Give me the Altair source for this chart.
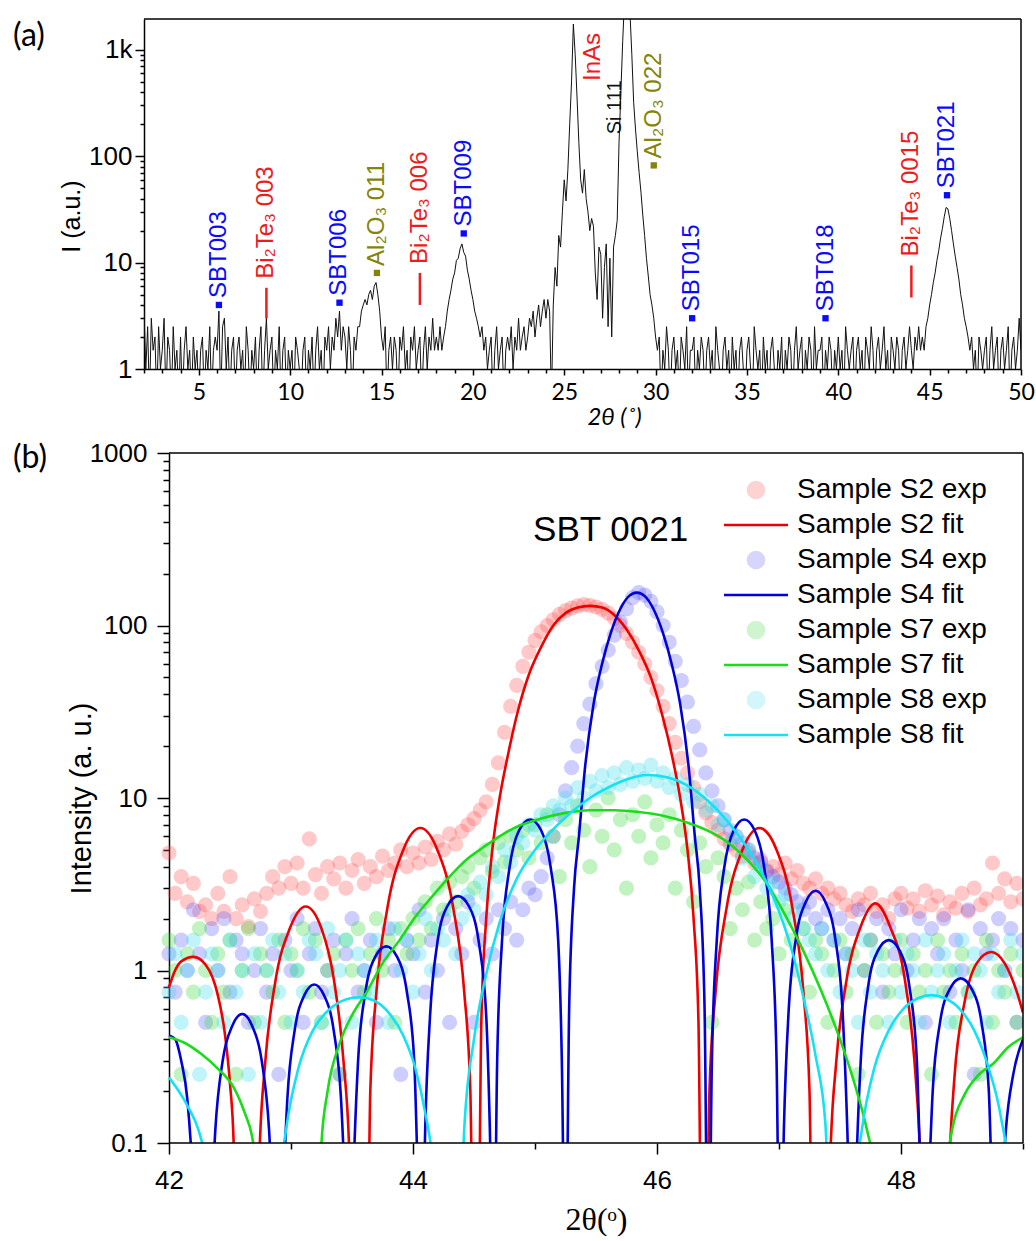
import altair as alt
import numpy as np
import pandas as pd

SANS = "Liberation Sans, DejaVu Sans"
CAL = "Lato, Open Sans"
SERIF = "Liberation Serif, DejaVu Serif"

# ====================== Panel (a): wide 2theta scan ======================
XRD_START = 2.0
XRD_STEP = 0.1
XRD_I = [
    3.5, 1, 2.5, 0.5, 3, 1.5, 2, 0.5, 2.5, 1,          # 2
    1.5, 3, 0.5, 2, 1.5, 0.5, 2.5, 1, 1.5, 0.5,        # 3
    2, 0.5, 1.5, 2.5, 1, 1.5, 0.5, 2, 1, 1.5,          # 4
    0.5, 1.5, 2, 0.5, 1.5, 1, 2.5, 0.5, 1.5, 2,        # 5
    1.5, 3.5, 0.5, 2.5, 3, 1, 2, 0.5, 1.5, 2,          # 6
    0.5, 1.5, 2, 1, 1.5, 0.5, 2.5, 1.5, 0.5, 1.5,      # 7
    1, 2, 0.5, 1.5, 2.5, 0.5, 1.5, 3, 1, 1.5,          # 8
    2, 0.5, 1.5, 1, 2.5, 0.5, 1.5, 2, 0.5, 1.5,        # 9
    1, 1.5, 0.5, 2, 1.5, 1, 0.5, 1.5, 2, 0.5,          # 10
    1.5, 1, 2, 0.5, 1.5, 2.5, 1, 1.5, 0.5, 2,          # 11
    1.5, 2.5, 1, 2, 1.5, 3, 2, 3.5, 1.5, 2.5,          # 12
    2, 1, 2.5, 1.5, 0.5, 2, 1.5, 2.5, 2.5, 3.5,        # 13
    4, 4.5, 4, 5, 5.5, 4.5, 6, 6.5, 5, 3.5,            # 14
    2, 1.5, 2.5, 0.5, 1.5, 2, 1, 2, 1.5, 0.5,          # 15
    2, 1.5, 2.5, 1, 1.5, 0.5, 2, 1.5, 2.5, 1,          # 16
    1.5, 2, 0.5, 1.5, 2.5, 1, 2, 1.5, 3, 1.5,          # 17
    2, 1.5, 2.5, 1.5, 2, 2.5, 3.5, 4.5, 5.5, 7,        # 18
    8, 10.5, 11, 13.5, 15, 12.5, 11.5, 8.5, 7, 5.5,    # 19
    4.5, 3.5, 3, 2.5, 2, 2.5, 1.5, 2, 1, 1.5,          # 20
    2, 0.5, 1.5, 2.5, 1, 1.5, 2, 0.5, 1.5, 2,          # 21
    1.5, 2.5, 1, 2, 1.5, 3, 1.5, 2, 2.5, 1.5,          # 22
    2, 3, 2.5, 3.5, 2, 3, 4, 2.5, 3.5, 4.5,            # 23
    3, 4.5, 3.5, 0.5, 4, 9, 6, 18, 14, 30,             # 24
    60, 38, 75, 200, 500, 1750, 900, 360, 135, 60,     # 25
    45, 75, 40, 30, 20, 26, 22, 8, 4.5, 14,            # 26
    12, 3, 9, 15, 2.5, 11, 2, 14, 18, 25,              # 27
    135, 400, 1200, 3000, 6000, 6000, 2200, 900, 320, 180,  # 28
    110, 70, 46, 28, 18, 11, 7.5, 5, 4, 3,             # 29
    2, 1.5, 2, 0.5, 1.5, 1, 2.5, 1.5, 0.5, 1.5,        # 30
    2, 1, 1.5, 0.5, 2, 1.5, 1, 2.5, 0.5, 1.5,          # 31
    1.5, 2, 0.5, 1.5, 1, 2, 1.5, 0.5, 1.5, 2,          # 32
    1, 1.5, 0.5, 2.5, 1.5, 1, 0.5, 1.5, 2, 1,          # 33
    1.5, 0.5, 2, 1, 1.5, 0.5, 1.5, 2, 1, 0.5,          # 34
    1.5, 2, 1, 0.5, 2.5, 1.5, 1, 1.5, 0.5, 2,          # 35
    1, 1.5, 0.5, 1.5, 2, 1, 0.5, 1.5, 1, 2,            # 36
    0.5, 1.5, 1, 2, 1.5, 0.5, 1.5, 2.5, 1, 1.5,        # 37
    2, 0.5, 1.5, 1, 2, 1.5, 0.5, 2.5, 1, 1.5,          # 38
    1.5, 2, 0.5, 1.5, 1, 2, 1.5, 0.5, 1.5, 1,          # 39
    2, 1, 1.5, 0.5, 2.5, 1.5, 1, 1.5, 2, 0.5,          # 40
    1.5, 2, 1, 1.5, 0.5, 2, 1.5, 1, 2.5, 1.5,          # 41
    0.5, 1.5, 2, 1, 1.5, 2.5, 1, 1.5, 0.5, 2,          # 42
    1.5, 1, 2, 1.5, 0.5, 1.5, 2, 1, 1.5, 2.5,          # 43
    1.5, 1, 2, 1.5, 2.5, 1.5, 2, 1.5, 2.5, 3,          # 44
    4, 5, 6.5, 8, 10.5, 13, 17, 21, 27, 33,            # 45
    32, 26, 20, 15, 11.5, 9, 7, 5, 4, 3,               # 46
    2.5, 2, 1.5, 2, 1, 1.5, 0.5, 2, 1.5, 1,            # 47
    1.5, 2, 0.5, 1.5, 2.5, 1, 1.5, 2, 0.5, 1.5,        # 48
    2, 1, 1.5, 2.5, 0.5, 1.5, 2, 1, 1.5, 3,            # 49
    1.5,                                               # 50
]

MARK_LABEL = ["SBT003", "SBT006", "Al₂O₃ 011", "SBT009", "Al₂O₃ 022", "SBT015", "SBT018", "SBT021"]
MARK_TT = [6.1, 12.7, 14.75, 19.5, 29.9, 32.0, 39.3, 45.95]
MARK_I = [4.0, 4.2, 8.0, 18.8, 82, 3.0, 3.0, 43]
MARK_KIND = ["SBT", "SBT", "Al2O3", "SBT", "Al2O3", "SBT", "SBT", "SBT"]

BT_LABEL = ["Bi₂Te₃ 003", "Bi₂Te₃ 006", "Bi₂Te₃ 0015"]
BT_TT = [8.7, 17.1, 44.0]
BT_LO = [3.0, 4.0, 4.7]
BT_HI = [5.8, 8.0, 9.4]

SUB_LABEL = ["InAs", "Si 111"]
SUB_TT = [26.6, 27.8]
SUB_I = [510, 161]
SUB_KIND = ["InAs", "Si"]

# ====================== Panel (b): SBT 0021 ======================
EXP_START = 42.0
EXP_STEP = 0.05
S2_EXP = [
    4.8, 2.8, 3.5, 2.5, 3.2, 2.2, 2.4, 2.0, 2.8, 2.2,
    3.5, 2.0, 2.4, 1.8, 2.6, 2.2, 2.8, 3.5, 3.0, 4.0,
    3.2, 4.2, 3.0, 5.8, 3.6, 2.8, 4.0, 3.4, 4.2, 3.0,
    3.8, 4.4, 3.2, 4.0, 3.5, 4.6, 3.8, 4.2, 5.0, 4.0,
    4.8, 4.2, 5.2, 4.4, 5.6, 5.0, 6.2, 5.4, 6.4, 7.0,
    7.6, 8.5, 9.5, 12, 16, 24, 34, 45, 58, 70,
    82, 92, 100, 108, 116, 122, 126, 130, 132, 131,
    128, 124, 118, 110, 100, 90, 80, 70, 60, 50,
    42, 34, 27, 21, 17, 14, 11.5, 9.5, 8.2, 7.2,
    6.5, 5.8, 5.4, 5.0, 4.6, 4.8, 4.2, 4.4, 3.8, 4.0,
    3.6, 4.2, 3.4, 3.8, 3.2, 3.0, 3.4, 2.8, 3.0, 2.6,
    2.8, 2.4, 2.2, 2.6, 2.4, 2.8, 2.2, 2.4, 2.0, 2.6,
    2.8, 2.3, 2.6, 2.2, 2.9, 2.4, 2.7, 2.1, 2.5, 2.3,
    2.8, 2.2, 3.0, 2.4, 2.6, 4.2, 2.8, 3.4, 2.5, 3.2,
    2.6,
]
S4_EXP = [
    1.25, 0.75, 1.5, 1.0, 2.25, 1.25, 0.5, 1.75, 1.0, 2.0,
    0.75, 1.5, 1.25, 0.5, 1.0, 1.75, 0.75, 1.25, 0.25, 1.5,
    1.0, 2.0, 0.5, 1.25, 1.75, 0.75, 1.0, 1.5, 0.25, 1.25,
    2.0, 0.75, 1.0, 1.5, 0.5, 1.25, 1.75, 1.0, 0.25, 1.5,
    1.25, 2.25, 0.75, 1.5, 1.0, 2.0, 0.5, 1.75, 1.25, 2.5,
    0.5, 1.5, 2.0, 1.25, 2.25, 1.75, 2.5, 1.5, 2.25, 3.0,
    2.75, 3.5, 4.5, 6, 8, 11, 15, 20, 27, 35,
    46, 58, 72, 88, 105, 125, 145, 155, 150, 138,
    120, 100, 80, 62, 48, 36, 26, 19, 14, 11,
    9, 7.5, 6.5, 6, 5.5, 5, 4.5, 4.25, 3.75, 3.5,
    3.25, 3.0, 2.75, 2.5, 2.25, 2.5, 2.0, 1.75, 2.25, 1.5,
    2.0, 1.25, 1.75, 2.25, 1.0, 1.5, 2.0, 0.75, 1.75, 1.25,
    2.25, 1.0, 1.5, 2.0, 0.5, 1.75, 1.25, 2.0, 0.75, 1.5,
    1.0, 2.25, 0.25, 1.75, 1.25, 1.5, 2.0, 1.0, 1.75, 0.5,
    1.5,
]
S7_EXP = [
    1.5, 1.0, 0.25, 1.25, 0.75, 1.75, 1.0, 0.5, 1.25, 0.75,
    1.5, 0.25, 1.0, 1.75, 0.5, 1.25, 1.0, 0.75, 1.5, 0.5,
    1.25, 1.0, 1.75, 0.75, 1.5, 0.5, 1.0, 1.25, 0.25, 1.5,
    1.0, 1.75, 0.75, 1.25, 2.0, 1.0, 1.5, 0.5, 1.75, 1.25,
    2.0, 1.5, 2.5, 1.75, 3.0, 2.25, 3.25, 2.5, 3.5, 4.0,
    3.0, 4.5, 5.0, 3.75, 5.5, 4.25, 6.0, 5.0, 6.5, 4.5,
    7.0, 5.5, 8.0, 6.0, 3.5, 7.5, 5.5, 9.0, 6.5, 4.0,
    8.5, 6.0, 10.0, 5.0, 7.5, 3.0, 8.0, 6.0, 9.5, 4.5,
    7.0, 5.5, 8.0, 3.0, 6.5, 5.0, 2.5, 5.5, 4.0, 0.5,
    4.5, 3.5, 1.75, 3.0, 2.25, 3.25, 1.5, 2.5, 1.75, 2.0,
    1.25, 2.25, 1.5, 1.0, 1.75, 0.75, 1.5, 1.25, 0.5, 1.0,
    1.5, 0.75, 1.25, 0.25, 1.0, 1.5, 0.5, 1.25, 0.75, 1.0,
    1.5, 0.5, 1.25, 0.75, 1.0, 0.25, 1.5, 0.75, 1.0, 0.5,
    1.25, 0.75, 1.0, 0.25, 1.5, 0.5, 1.0, 0.75, 1.25, 0.5,
    1.0,
]
S8_EXP = [
    0.75, 1.25, 0.5, 1.0, 1.5, 0.25, 0.75, 1.25, 1.0, 0.5,
    1.5, 0.75, 1.0, 0.25, 1.25, 0.5, 1.0, 1.5, 0.75, 1.25,
    0.5, 1.0, 0.75, 1.5, 1.25, 0.5, 1.75, 0.75, 1.0, 1.5,
    0.5, 1.25, 1.0, 0.75, 1.5, 1.25, 0.5, 1.75, 1.0, 1.5,
    0.75, 1.25, 2.0, 1.0, 1.75, 1.5, 2.25, 1.25, 2.0, 2.75,
    2.25, 3.25, 2.75, 4.0, 3.5, 5.0, 4.25, 6.0, 5.5, 7.0,
    6.5, 8.0, 7.5, 9.0, 8.5, 10.0, 9.0, 11.5, 10.0, 12.5,
    11.0, 13.5, 11.5, 14.0, 12.0, 15.0, 12.5, 14.5, 13.0, 15.5,
    12.5, 14.0, 11.5, 13.0, 10.5, 12.0, 9.5, 10.5, 8.5, 9.0,
    7.0, 7.5, 5.5, 6.0, 4.5, 5.0, 3.5, 4.0, 3.0, 3.25,
    2.5, 2.75, 2.0, 2.25, 1.75, 1.5, 1.25, 1.75, 1.0, 1.5,
    0.75, 1.25, 1.0, 0.5, 1.5, 0.75, 1.25, 1.0, 0.5, 1.5,
    0.75, 1.25, 1.0, 0.5, 1.5, 0.75, 1.0, 1.25, 0.5, 1.0,
    1.5, 0.75, 1.25, 1.0, 0.5, 1.25, 0.75, 1.0, 1.5, 0.75,
    1.25,
]

FIT_S2_X = [42.00, 42.05, 42.10, 42.20, 42.30, 42.40, 42.46, 42.50, 42.53, 42.55,
            42.71, 42.74, 42.79, 42.87, 42.99, 43.12, 43.25, 43.35, 43.43, 43.48, 43.51,
            43.62, 43.65, 43.70, 43.79, 43.92, 44.06, 44.20, 44.33, 44.42, 44.47, 44.50,
            44.53, 44.56, 44.60, 44.65, 44.71, 44.78, 44.85, 44.95, 45.05, 45.15, 45.25, 45.35,
            45.45, 45.55, 45.65, 45.75, 45.85, 45.95, 46.05, 46.12, 46.19, 46.25, 46.30, 46.34, 46.37,
            46.40, 46.43, 46.48, 46.57, 46.70, 46.84, 46.98, 47.11, 47.20, 47.25, 47.28,
            47.39, 47.42, 47.47, 47.55, 47.67, 47.79, 47.91, 48.03, 48.11, 48.16, 48.20,
            48.36, 48.39, 48.44, 48.52, 48.62, 48.74, 48.85, 48.95, 49.00]
FIT_S2_Y = [0.80, 1.0, 1.13, 1.2, 1.08, 0.72, 0.42, 0.22, 0.1, 0.01,
            0.01, 0.08, 0.3, 0.85, 1.75, 2.35, 1.75, 0.9, 0.3, 0.08, 0.01,
            0.01, 0.2, 0.75, 2.3, 5.0, 6.7, 5.0, 2.3, 0.75, 0.2, 0.01,
            0.01, 0.5, 2, 5, 10, 18, 30, 52, 75, 100, 118, 127,
            130, 127, 115, 95, 72, 50, 29, 18, 10, 5, 2, 0.5, 0.01,
            0.01, 0.2, 0.75, 2.3, 5.0, 6.7, 5.0, 2.3, 0.75, 0.2, 0.01,
            0.01, 0.08, 0.3, 0.85, 1.8, 2.45, 1.8, 0.9, 0.3, 0.08, 0.01,
            0.01, 0.06, 0.25, 0.65, 1.1, 1.28, 1.1, 0.75, 0.57]

FIT_S4_X = [42.00, 42.05, 42.10, 42.15, 42.19, 42.23, 42.31,
            42.34, 42.38, 42.44, 42.52, 42.60, 42.68, 42.76, 42.82, 42.86, 42.90,
            42.93, 42.97, 43.03, 43.11, 43.19, 43.27, 43.35, 43.41, 43.45, 43.48,
            43.51, 43.55, 43.61, 43.69, 43.78, 43.87, 43.95, 44.01, 44.04, 44.07,
            44.10, 44.14, 44.20, 44.28, 44.37, 44.46, 44.54, 44.60, 44.63, 44.66,
            44.69, 44.73, 44.79, 44.87, 44.96, 45.05, 45.13, 45.19, 45.22, 45.25,
            45.28, 45.32, 45.36, 45.41, 45.48, 45.55, 45.62, 45.70, 45.77, 45.835,
            45.90, 45.97, 46.05, 46.12, 46.19, 46.26, 46.31, 46.35, 46.39, 46.42,
            46.45, 46.49, 46.55, 46.63, 46.715, 46.80, 46.88, 46.94, 46.98, 47.01,
            47.04, 47.08, 47.14, 47.22, 47.30, 47.38, 47.46, 47.52, 47.56, 47.60,
            47.63, 47.67, 47.73, 47.81, 47.90, 47.99, 48.07, 48.13, 48.16, 48.19,
            48.22, 48.26, 48.32, 48.40, 48.49, 48.58, 48.66, 48.72, 48.75, 48.78,
            48.81, 48.86, 48.92, 49.00]
FIT_S4_Y = [0.42, 0.40, 0.30, 0.18, 0.07, 0.01, 0.01,
            0.03, 0.12, 0.3, 0.48, 0.56, 0.48, 0.3, 0.12, 0.03, 0.01,
            0.04, 0.18, 0.45, 0.72, 0.83, 0.72, 0.45, 0.18, 0.04, 0.01,
            0.06, 0.3, 0.75, 1.2, 1.38, 1.2, 0.75, 0.3, 0.06, 0.01,
            0.12, 0.55, 1.45, 2.35, 2.7, 2.35, 1.45, 0.55, 0.12, 0.01,
            0.3, 1.5, 3.9, 6.5, 7.5, 6.5, 3.9, 1.5, 0.3, 0.01,
            0.6, 3, 6, 15, 35, 60, 90, 125, 148, 155,
            148, 125, 90, 60, 35, 15, 6, 3, 0.6, 0.01,
            0.3, 1.5, 3.9, 6.5, 7.5, 6.5, 3.9, 1.5, 0.3, 0.01,
            0.12, 0.6, 1.55, 2.5, 2.9, 2.5, 1.55, 0.6, 0.12, 0.01,
            0.06, 0.3, 0.8, 1.3, 1.5, 1.3, 0.8, 0.3, 0.06, 0.01,
            0.04, 0.2, 0.5, 0.78, 0.9, 0.78, 0.5, 0.2, 0.04, 0.01,
            0.03, 0.12, 0.25, 0.4]

FIT_S7_X = [42.00, 42.13, 42.26, 42.40, 42.53, 42.62, 42.68, 42.72, 42.76, 42.80,
            43.20, 43.25, 43.30, 43.40, 43.50, 43.62, 43.75, 43.89, 44.02, 44.16,
            44.30, 44.44, 44.58, 44.71, 44.87, 45.05, 45.25, 45.45, 45.65, 45.85,
            46.05, 46.25, 46.45, 46.60, 46.75, 46.90, 47.05, 47.20, 47.35, 47.50,
            47.62, 47.72, 47.80, 47.88,
            48.30, 48.36, 48.42, 48.52, 48.64, 48.76, 48.88, 49.00]
FIT_S7_Y = [0.41, 0.38, 0.33, 0.27, 0.21, 0.15, 0.11, 0.07, 0.03, 0.01,
            0.01, 0.1, 0.2, 0.38, 0.55, 0.75, 1.1, 1.5, 2.05, 2.7,
            3.5, 4.4, 5.2, 6.0, 6.9, 7.6, 8.2, 8.5, 8.5, 8.3,
            7.9, 7.2, 6.3, 5.4, 4.3, 3.2, 2.1, 1.3, 0.75, 0.4,
            0.22, 0.12, 0.06, 0.01,
            0.01, 0.06, 0.12, 0.19, 0.25, 0.29, 0.36, 0.41]

FIT_S8_X = [42.00, 42.08, 42.16, 42.24, 42.30, 42.35, 42.40,
            42.86, 42.90, 42.96, 43.06, 43.18, 43.32, 43.45, 43.56, 43.68, 43.80, 43.92, 44.02,
            44.10, 44.16, 44.24,
            44.36, 44.42, 44.50, 44.60, 44.71, 44.85, 45.00, 45.15, 45.30, 45.45, 45.60, 45.75,
            45.92, 46.08, 46.25, 46.42, 46.58, 46.72, 46.85, 46.98, 47.10, 47.20, 47.30, 47.38, 47.45,
            47.58, 47.62, 47.68, 47.78, 47.90, 48.02, 48.14, 48.25, 48.36, 48.48, 48.60, 48.72,
            48.82, 48.88, 48.94]
FIT_S8_Y = [0.24, 0.2, 0.16, 0.12, 0.08, 0.04, 0.01,
            0.01, 0.05, 0.12, 0.27, 0.45, 0.6, 0.68, 0.7, 0.67, 0.57, 0.42, 0.27,
            0.15, 0.08, 0.01,
            0.01, 0.12, 0.4, 0.95, 1.9, 3.4, 5.0, 6.6, 8.3, 10.0, 11.5, 12.8,
            13.6, 13.2, 11.8, 9.6, 7.3, 5.4, 3.8, 2.4, 1.35, 0.7, 0.32, 0.13, 0.01,
            0.01, 0.05, 0.12, 0.27, 0.45, 0.6, 0.69, 0.72, 0.69, 0.6, 0.45, 0.27,
            0.14, 0.07, 0.01]

EXP_SERIES = ["Sample S2 exp", "Sample S4 exp", "Sample S7 exp", "Sample S8 exp"]
EXP_COLORS = ["#ff4d4d", "#5a5aff", "#33d633", "#33dbe8"]
SERIES = ["Sample S2 exp", "Sample S2 fit", "Sample S4 exp", "Sample S4 fit",
          "Sample S7 exp", "Sample S7 fit", "Sample S8 exp", "Sample S8 fit"]
LEGEND_COLORS = ["#fcd2d2", "#ee0000", "#d6d6fc", "#0000d8",
                 "#cff5cf", "#18dd18", "#d2f6fa", "#14e2f2"]
LINE_PATH = "M-4,0H4"
SERIES_SHAPES = ["circle", LINE_PATH, "circle", LINE_PATH, "circle", LINE_PATH, "circle", LINE_PATH]

# ---------------------------------------------------------------------------
tt = np.round(XRD_START + XRD_STEP * np.arange(len(XRD_I)), 2)
df_a = pd.DataFrame({"tt": tt, "I": XRD_I})
df_mark = pd.DataFrame({"tt": MARK_TT, "I": MARK_I, "label": MARK_LABEL, "kind": MARK_KIND})
df_bt = pd.DataFrame({"tt": BT_TT, "lo": BT_LO, "hi": BT_HI, "label": BT_LABEL,
                      "kind": ["Bi2Te3"] * len(BT_TT)})
df_sub = pd.DataFrame({"tt": SUB_TT, "I": SUB_I, "label": SUB_LABEL, "kind": SUB_KIND})

KIND_SCALE = alt.Scale(domain=["SBT", "Al2O3", "Bi2Te3", "InAs", "Si"],
                       range=["#0a0aff", "#84840a", "#ee1c1c", "#ee1c1c", "#111111"])

A_X0, A_X1 = 2, 50
A_Y0, A_Y1 = 1, 1950
xa = alt.Scale(domain=[A_X0, A_X1], nice=False, zero=False)
ya = alt.Scale(type="log", domain=[A_Y0, A_Y1], nice=False)

A_XTICKS = list(range(2, 51))
A_YTICKS = [m * 10 ** e for e in range(0, 3) for m in range(1, 10)] + [1000]

axis_ax = alt.Axis(
    values=A_XTICKS, tickCount=100, labelFlush=False,
    labelExpr="datum.value % 5 == 0 ? format(datum.value, 'd') : ''",
    tickSize={"condition": {"test": "datum.value % 5 == 0", "value": 6}, "value": 4},
    labelFont=CAL, labelFontSize=23, labelPadding=6, labelOverlap=False,
    title="2θ (˚)", titleFont=CAL, titleFontSize=24, titleFontStyle="italic",
    titleFontWeight="normal", titleX=470, titlePadding=1,
)
axis_ay = alt.Axis(
    values=A_YTICKS, tickCount=100,
    labelExpr="datum.value == 1000 ? '1k' : datum.value == 100 ? '100' : datum.value == 10 ? '10' : datum.value == 1 ? '1' : ''",
    tickSize={"condition": {"test": "indexof([1,10,100,1000], datum.value) >= 0", "value": 9}, "value": 4},
    labelFont=SANS, labelFontSize=26, labelPadding=3,
    title="I (a.u.)", titleFont=SANS, titleFontSize=25, titleFontWeight="normal",
    titleX=-60, titleY=197, titleBaseline="bottom",
)

line_a = alt.Chart(df_a).mark_line(color="#111111", strokeWidth=1.0, clip=True).encode(
    x=alt.X("tt:Q", scale=xa, axis=axis_ax),
    y=alt.Y("I:Q", scale=ya, axis=axis_ay),
)
frame_a = alt.Chart(pd.DataFrame({"x1": [A_X0, A_X1], "x2": [A_X1, A_X1],
                                  "y1": [A_Y1, A_Y0], "y2": [A_Y1, A_Y1]})).mark_rule(
    color="black", strokeWidth=1.5).encode(
    x=alt.X("x1:Q", scale=xa), x2="x2:Q",
    y=alt.Y("y1:Q", scale=ya), y2="y2:Q",
)
sq_a = alt.Chart(df_mark).mark_square(size=40, opacity=1).encode(
    x=alt.X("tt:Q", scale=xa), y=alt.Y("I:Q", scale=ya),
    color=alt.Color("kind:N", scale=KIND_SCALE, legend=None),
)
sq_text = alt.Chart(df_mark).mark_text(angle=270, align="left", baseline="middle",
                                       font=SANS, fontSize=24, dx=7).encode(
    x=alt.X("tt:Q", scale=xa), y=alt.Y("I:Q", scale=ya), text="label:N",
    color=alt.Color("kind:N", scale=KIND_SCALE, legend=None),
)
bt_rule = alt.Chart(df_bt).mark_rule(strokeWidth=2.5).encode(
    x=alt.X("tt:Q", scale=xa), y=alt.Y("lo:Q", scale=ya), y2="hi:Q",
    color=alt.Color("kind:N", scale=KIND_SCALE, legend=None),
)
bt_text = alt.Chart(df_bt).mark_text(angle=270, align="left", baseline="middle",
                                     font=SANS, fontSize=24, dx=9).encode(
    x=alt.X("tt:Q", scale=xa), y=alt.Y("hi:Q", scale=ya), text="label:N",
    color=alt.Color("kind:N", scale=KIND_SCALE, legend=None),
)
sub_text = alt.Chart(df_sub).mark_text(angle=270, align="left", baseline="middle",
                                       font=SANS).encode(
    x=alt.X("tt:Q", scale=xa), y=alt.Y("I:Q", scale=ya), text="label:N",
    color=alt.Color("kind:N", scale=KIND_SCALE, legend=None),
    size=alt.Size("kind:N", scale=alt.Scale(domain=["InAs", "Si"], range=[24, 20]), legend=None),
)
tag_a = alt.Chart(pd.DataFrame({"t": ["(a)"]})).mark_text(
    font=CAL, fontSize=32, align="left", baseline="middle", color="black"
).encode(text="t:N", x=alt.value(-131), y=alt.value(17))

chart_a = alt.layer(line_a, frame_a, bt_rule, sq_a, sq_text, bt_text, sub_text, tag_a).properties(
    width=877, height=350)

# ---------------------------------------------------------------------------
xg = np.round(EXP_START + EXP_STEP * np.arange(len(S2_EXP)), 2)
exp_frames = []
for name, vals in zip(EXP_SERIES, [S2_EXP, S4_EXP, S7_EXP, S8_EXP]):
    exp_frames.append(pd.DataFrame({"tt": xg[:len(vals)], "I": vals, "series": name}))
df_exp = pd.concat(exp_frames, ignore_index=True)

fit_frames = []
for name, xs, ys in [("Sample S2 fit", FIT_S2_X, FIT_S2_Y), ("Sample S4 fit", FIT_S4_X, FIT_S4_Y),
                     ("Sample S7 fit", FIT_S7_X, FIT_S7_Y), ("Sample S8 fit", FIT_S8_X, FIT_S8_Y)]:
    n = min(len(xs), len(ys))
    fit_frames.append(pd.DataFrame({"tt": xs[:n], "I": ys[:n], "series": name}))
df_fit = pd.concat(fit_frames, ignore_index=True)

# panel (b) is 25 px right of panel (a): the view starts where panel (a)'s does
# and the 2-theta scale begins a little before 42, so 42 falls on the left axis.
B_X0, B_X1 = 42, 49
B_Y0, B_Y1 = 0.1, 1000
B_WIDTH = 879
B_SHIFT = 25
B_XLEFT = B_X0 - B_SHIFT * (B_X1 - B_X0) / (B_WIDTH - B_SHIFT)
xb = alt.Scale(domain=[B_XLEFT, B_X1], nice=False, zero=False)
yb = alt.Scale(type="log", domain=[B_Y0, B_Y1], nice=False)
B_XTICKS = list(range(42, 50))
B_YTICKS = [round(m * 10.0 ** e, 6) for e in range(-1, 3) for m in range(1, 10)] + [1000]

axis_bx = alt.Axis(
    values=B_XTICKS, tickCount=100, domain=False, labelFlush=False,
    labelExpr="datum.value % 2 == 0 ? format(datum.value, 'd') : ''",
    tickSize={"condition": {"test": "datum.value % 2 == 0", "value": 11}, "value": 6},
    labelFont=SANS, labelFontSize=26, labelPadding=13, labelOverlap=False,
    title="2θ(ᵒ)", titleFont=SERIF, titleFontSize=32, titleFontWeight="normal",
    titlePadding=11, titleX=(B_SHIFT + B_WIDTH) / 2,
)
axis_by = alt.Axis(
    values=B_YTICKS, tickCount=100, offset=-B_SHIFT,
    labelExpr="datum.value == 1000 ? '1000' : datum.value == 100 ? '100' : datum.value == 10 ? '10' : datum.value == 1 ? '1' : datum.value == 0.1 ? '0.1' : ''",
    tickSize={"condition": {"test": "indexof([0.1,1,10,100,1000], datum.value) >= 0", "value": 12}, "value": 6},
    labelFont=SANS, labelFontSize=26, labelPadding=10,
    title="Intensity (a. u.)", titleFont=SANS, titleFontSize=29, titleFontWeight="normal",
    titleX=-73, titleY=345, titleBaseline="bottom",
)

LEG_FILL = alt.Scale(domain=SERIES, range=LEGEND_COLORS)
LEG_STROKE = alt.Scale(domain=SERIES, range=LEGEND_COLORS)
LEG_SHAPE = alt.Scale(domain=SERIES, range=SERIES_SHAPES)
leg = alt.Legend(title=None, orient="none", legendX=598, legendY=23, padding=0,
                 labelFont=SANS, labelFontSize=28, labelColor="black", labelOffset=27,
                 symbolSize=256, symbolStrokeWidth=2.6, rowPadding=7, labelLimit=400)

pts = alt.Chart(df_exp).mark_circle(size=230, opacity=0.3, clip=True).encode(
    x=alt.X("tt:Q", scale=xb, axis=axis_bx),
    y=alt.Y("I:Q", scale=yb, axis=axis_by),
    color=alt.Color("series:N", scale=alt.Scale(domain=EXP_SERIES, range=EXP_COLORS), legend=None),
)
legend_layer = alt.Chart(pd.DataFrame({"series": SERIES})).transform_filter(
    "datum.series == '-'"
).mark_point(filled=True, opacity=1, size=256).encode(
    fill=alt.Fill("series:N", scale=LEG_FILL, legend=leg),
    stroke=alt.Stroke("series:N", scale=LEG_STROKE, legend=leg),
    shape=alt.Shape("series:N", scale=LEG_SHAPE, legend=leg),
)
fits = alt.Chart(df_fit).mark_line(strokeWidth=2.6, clip=True, interpolate="monotone").encode(
    x=alt.X("tt:Q", scale=xb),
    y=alt.Y("I:Q", scale=yb),
    stroke=alt.Stroke("series:N", scale=LEG_STROKE),
)
frame_b = alt.Chart(pd.DataFrame({"x1": [B_X0, B_X0, B_X1], "x2": [B_X1, B_X1, B_X1],
                                  "y1": [B_Y1, B_Y0, B_Y0], "y2": [B_Y1, B_Y0, B_Y1]})).mark_rule(
    color="black", strokeWidth=1.5).encode(
    x=alt.X("x1:Q", scale=xb), x2="x2:Q",
    y=alt.Y("y1:Q", scale=yb), y2="y2:Q",
)
sbt_text = alt.Chart(pd.DataFrame({"tt": [45.62], "I": [360], "t": ["SBT 0021"]})).mark_text(
    font=SANS, fontSize=35, align="center", baseline="middle", color="black"
).encode(x=alt.X("tt:Q", scale=xb), y=alt.Y("I:Q", scale=yb), text="t:N")
tag_b = alt.Chart(pd.DataFrame({"t": ["(b)"]})).mark_text(
    font=CAL, fontSize=32, align="left", baseline="middle", color="black"
).encode(text="t:N", x=alt.value(-131), y=alt.value(5))

chart_b = alt.layer(pts, legend_layer, fits, frame_b, sbt_text, tag_b).properties(
    width=B_WIDTH, height=690)

chart = alt.vconcat(chart_a, chart_b, spacing=9).resolve_scale(
    color="independent", fill="independent", stroke="independent",
    shape="independent", size="independent",
).properties(
    padding={"left": 12, "top": 17, "right": 0, "bottom": 0},
    background="white",
).configure_view(
    stroke="transparent"
).configure_axis(
    grid=False, domainColor="black", domainWidth=1.5, tickColor="black", tickWidth=1.5,
    labelColor="black", titleColor="black",
)

chart.save("out.html", embed_options={"renderer": "svg", "actions": False})
